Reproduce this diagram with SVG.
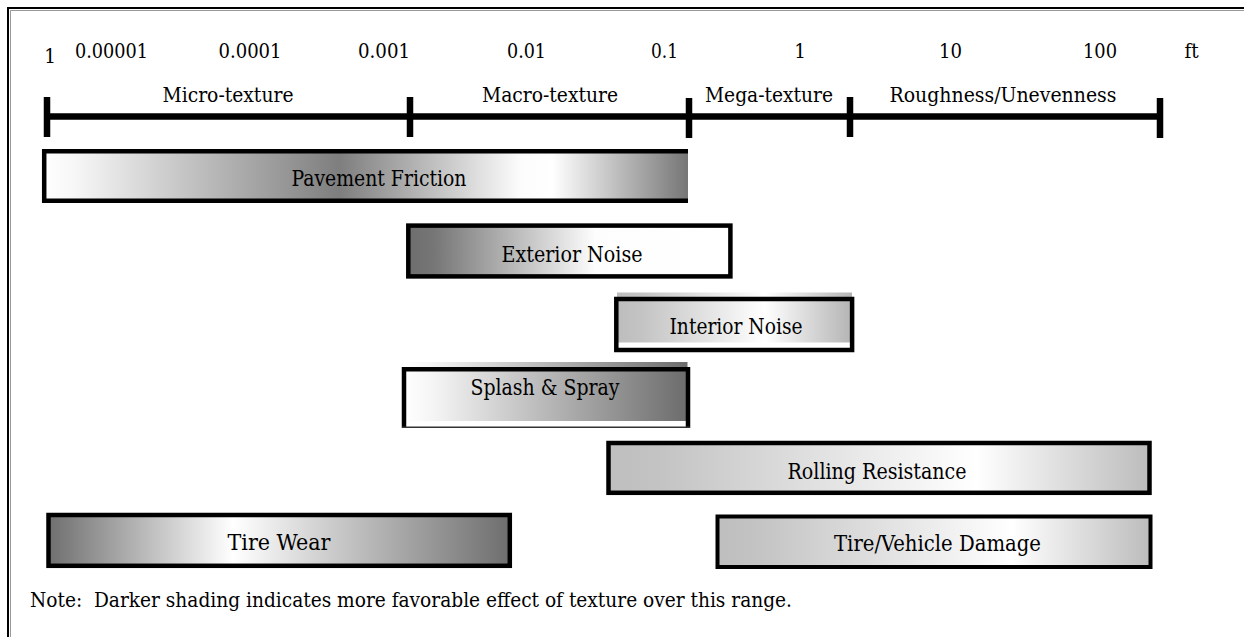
<svg xmlns="http://www.w3.org/2000/svg" width="1244" height="637" viewBox="0 0 1244 637">
<defs>
<linearGradient id="gPF" x1="0" y1="0" x2="1" y2="0">
<stop offset="0" stop-color="#ffffff"/><stop offset="0.05" stop-color="#f7f7f7"/><stop offset="0.46" stop-color="#7e7e7e"/><stop offset="0.74" stop-color="#fcfcfc"/><stop offset="0.79" stop-color="#ffffff"/><stop offset="1" stop-color="#767676"/>
</linearGradient>
<linearGradient id="gEN" x1="0" y1="0" x2="1" y2="0">
<stop offset="0" stop-color="#6e6e6e"/><stop offset="0.08" stop-color="#767676"/><stop offset="0.58" stop-color="#fdfdfd"/><stop offset="1" stop-color="#ffffff"/>
</linearGradient>
<linearGradient id="gIN" x1="0" y1="0" x2="1" y2="0">
<stop offset="0" stop-color="#bdbdbd"/><stop offset="0.1" stop-color="#c3c3c3"/><stop offset="0.63" stop-color="#ffffff"/><stop offset="1" stop-color="#b4b4b4"/>
</linearGradient>
<linearGradient id="gSS" x1="0" y1="0" x2="1" y2="0">
<stop offset="0" stop-color="#ffffff"/><stop offset="0.1" stop-color="#f5f5f5"/><stop offset="1" stop-color="#6c6c6c"/>
</linearGradient>
<linearGradient id="gRR" x1="0" y1="0" x2="1" y2="0">
<stop offset="0" stop-color="#bebebe"/><stop offset="0.1" stop-color="#c4c4c4"/><stop offset="0.68" stop-color="#ffffff"/><stop offset="1" stop-color="#bcbcbc"/>
</linearGradient>
<linearGradient id="gTW" x1="0" y1="0" x2="1" y2="0">
<stop offset="0" stop-color="#6f6f6f"/><stop offset="0.4" stop-color="#ffffff"/><stop offset="1" stop-color="#6e6e6e"/>
</linearGradient>
</defs>
<style>
text{font-family:"DejaVu Serif Condensed","DejaVu Serif","Liberation Serif",serif;font-stretch:condensed;fill:#000}
.s{font-size:20.5px;text-anchor:middle}
.b{font-size:21.5px;text-anchor:middle}
.n{font-size:20.5px;white-space:pre}
.bd{fill:none;stroke:#000;stroke-width:4.5}
.sc{stroke:#000;stroke-width:6.5;fill:none}
</style>
<rect x="0" y="0" width="1244" height="637" fill="#fff"/>
<g id="frame">
<path d="M8,637 V8 H1244" fill="none" stroke="#000" stroke-width="2"/>
<path d="M10.5,637 V10.5 H1244" fill="none" stroke="#999" stroke-width="1"/>
</g>
<g id="scale">
<path class="sc" d="M47,116.5 H1160"/>
<path class="sc" d="M47,97 V137 M410,97 V137 M689,98 V138 M850,97 V137 M1160,98 V138"/>
<text class="s" x="50" y="62.5">1</text>
<text class="s" x="111.5" y="58" textLength="73" lengthAdjust="spacingAndGlyphs">0.00001</text>
<text class="s" x="250" y="58" textLength="63" lengthAdjust="spacingAndGlyphs">0.0001</text>
<text class="s" x="384" y="58" textLength="52" lengthAdjust="spacingAndGlyphs">0.001</text>
<text class="s" x="526.5" y="58" textLength="39" lengthAdjust="spacingAndGlyphs">0.01</text>
<text class="s" x="664.5" y="58" textLength="27" lengthAdjust="spacingAndGlyphs">0.1</text>
<text class="s" x="800" y="58">1</text>
<text class="s" x="950.5" y="58" textLength="23" lengthAdjust="spacingAndGlyphs">10</text>
<text class="s" x="1100" y="58" textLength="34" lengthAdjust="spacingAndGlyphs">100</text>
<text class="s" x="1191.5" y="58">ft</text>
<text class="s" x="228" y="102" textLength="131" lengthAdjust="spacingAndGlyphs">Micro-texture</text>
<text class="s" x="550" y="102" textLength="136" lengthAdjust="spacingAndGlyphs">Macro-texture</text>
<text class="s" x="769" y="102" textLength="128" lengthAdjust="spacingAndGlyphs">Mega-texture</text>
<text class="s" x="1003" y="102" textLength="227" lengthAdjust="spacingAndGlyphs">Roughness/Unevenness</text>
</g>
<g id="connectors"/>
<g id="pavement-friction">
<rect x="42" y="150" width="646" height="53" fill="url(#gPF)"/>
<path class="bd" d="M688,151.2 H44.2 V200.8 H688"/>
<text class="b" x="379" y="186" textLength="175" lengthAdjust="spacingAndGlyphs">Pavement Friction</text>
</g>
<g id="exterior-noise">
<rect x="408.3" y="225.6" width="322.1" height="50.8" fill="url(#gEN)" stroke="#000" stroke-width="4.5"/>
<text class="b" x="572" y="262" textLength="141" lengthAdjust="spacingAndGlyphs">Exterior Noise</text>
</g>
<g id="interior-noise">
<rect x="617" y="292.5" width="235" height="50" fill="url(#gIN)"/>
<rect class="bd" x="616.3" y="299" width="235.8" height="51"/>
<text class="b" x="736" y="333.5" textLength="133" lengthAdjust="spacingAndGlyphs">Interior Noise</text>
</g>
<g id="splash-spray">
<rect x="404" y="362" width="283.5" height="59" fill="url(#gSS)"/>
<path class="bd" d="M404,428 V369.3 H688 V428"/>
<path d="M402,427.3 H690" stroke="#333" stroke-width="1.5"/>
<text class="b" x="545" y="395" textLength="149" lengthAdjust="spacingAndGlyphs">Splash &amp; Spray</text>
</g>
<g id="rolling-resistance">
<rect x="608.5" y="443" width="541" height="49.8" fill="url(#gRR)" stroke="#000" stroke-width="4.5"/>
<text class="b" x="877" y="478.5" textLength="179" lengthAdjust="spacingAndGlyphs">Rolling Resistance</text>
</g>
<g id="tire-vehicle-damage">
<rect x="717.5" y="516.5" width="433" height="50.5" fill="url(#gRR)" stroke="#000" stroke-width="4"/>
<text class="b" x="937.5" y="551" textLength="207" lengthAdjust="spacingAndGlyphs">Tire/Vehicle Damage</text>
</g>
<g id="tire-wear">
<rect x="48.5" y="515" width="461.3" height="50.8" fill="url(#gTW)" stroke="#000" stroke-width="4.5"/>
<text class="b" x="279" y="549.5" textLength="103" lengthAdjust="spacingAndGlyphs">Tire Wear</text>
</g>
<g id="note">
<text class="n" x="30" y="607" xml:space="preserve" textLength="762" lengthAdjust="spacingAndGlyphs">Note:  Darker shading indicates more favorable effect of texture over this range.</text>
</g>
</svg>
